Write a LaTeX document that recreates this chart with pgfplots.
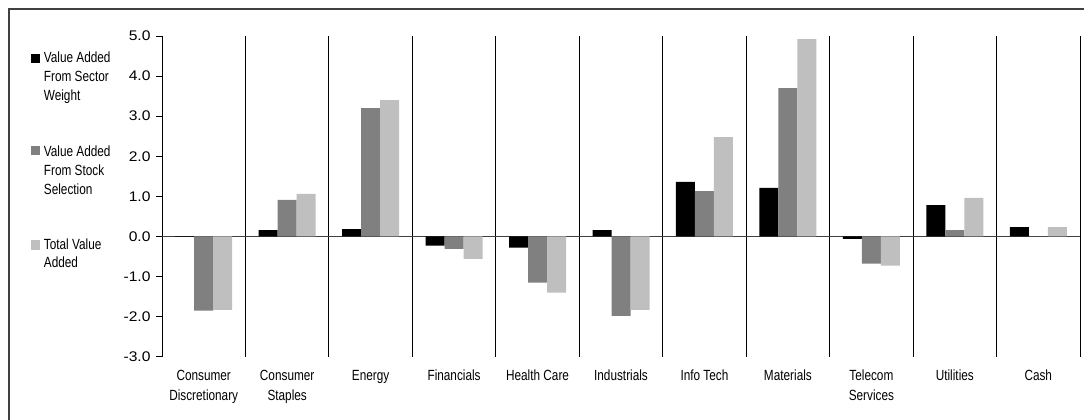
\documentclass[border=0pt]{standalone}
\usepackage{pgfplots}
\pgfplotsset{compat=1.18}
\usepackage{fontspec}
\setmainfont{Liberation Sans}
\newfontfamily\narrowfont[FakeStretch=0.8]{Liberation Sans}
\newfontfamily\tickfont[FakeStretch=1.12]{Liberation Sans}
\begin{document}
\begin{tikzpicture}[x=1bp,y=1bp]
\useasboundingbox (0,0) rectangle (1084,419);
\draw[line width=1.6bp, color=black!75] (9,-5) -- (9,410) -- (1090,410);
\begin{axis}[at={(162bp,62.3bp)}, anchor=south west, scale only axis,
  width=918bp, height=320.7bp,
  xmin=-0.5, xmax=10.5, ymin=-3, ymax=5,
  axis lines=left, axis line style={-, black, line width=0.9bp},
  x axis line style={draw=none},
  ytick={-3,-2,-1,0,1,2,3,4,5},
  yticklabel style={font=\tickfont\fontsize{14}{16}\selectfont, xshift=-2bp,
    /pgf/number format/.cd, fixed, fixed zerofill, precision=1, assume math mode=true},
  tick align=outside, major tick length=6bp,
  ytick style={black, line width=0.9bp},
  xtick={0,1,2,3,4,5,6,7,8,9,10},
  xticklabels={{Consumer\\Discretionary},{Consumer\\Staples},Energy,Financials,Health Care,Industrials,Info Tech,Materials,{Telecom\\Services},Utilities,Cash},
  xticklabel style={font=\narrowfont\fontsize{14.8}{20}\selectfont, align=center, yshift=-4bp},
  xtick style={draw=none},
  extra x ticks={0.5,1.5,2.5,3.5,4.5,5.5,6.5,7.5,8.5,9.5,10.5},
  extra x tick labels={},
  extra x tick style={grid=major, major grid style={black, line width=0.9bp}},
  extra y ticks={0}, extra y tick labels={},
  extra y tick style={grid=major, major grid style={black!75, line width=1.3bp}},
  ybar=0pt, bar width=19bp,
]
\addplot[fill=black, draw=none] coordinates {(0,-0.01) (1,0.16) (2,0.18) (3,-0.23) (4,-0.28) (5,0.16) (6,1.36) (7,1.21) (8,-0.06) (9,0.78) (10,0.23)};
\addplot[fill=black!50, draw=none] coordinates {(0,-1.85) (1,0.91) (2,3.20) (3,-0.31) (4,-1.15) (5,-1.98) (6,1.13) (7,3.70) (8,-0.68) (9,0.16) (10,0.00)};
\addplot[fill=black!25, draw=none] coordinates {(0,-1.83) (1,1.06) (2,3.40) (3,-0.56) (4,-1.40) (5,-1.83) (6,2.48) (7,4.92) (8,-0.73) (9,0.96) (10,0.23)};
\end{axis}
% legend
\begin{scope}[every node/.style={font=\narrowfont\fontsize{14.8}{19}\selectfont, inner sep=0pt, anchor=base west}]
\fill[black] (30.7,356) rectangle (40.3,365.5);
\node at (43.7,356.7) {Value Added};
\node at (43.7,337.7) {From Sector};
\node at (43.7,318.7) {Weight};
\fill[black!50] (30.7,263.7) rectangle (40.3,273.3);
\node at (43.7,263) {Value Added};
\node at (43.7,244) {From Stock};
\node at (43.7,225) {Selection};
\fill[black!25] (30.7,169.5) rectangle (40.3,179);
\node at (43.7,169.7) {Total Value};
\node at (43.7,151.7) {Added};
\end{scope}
\end{tikzpicture}
\end{document}
